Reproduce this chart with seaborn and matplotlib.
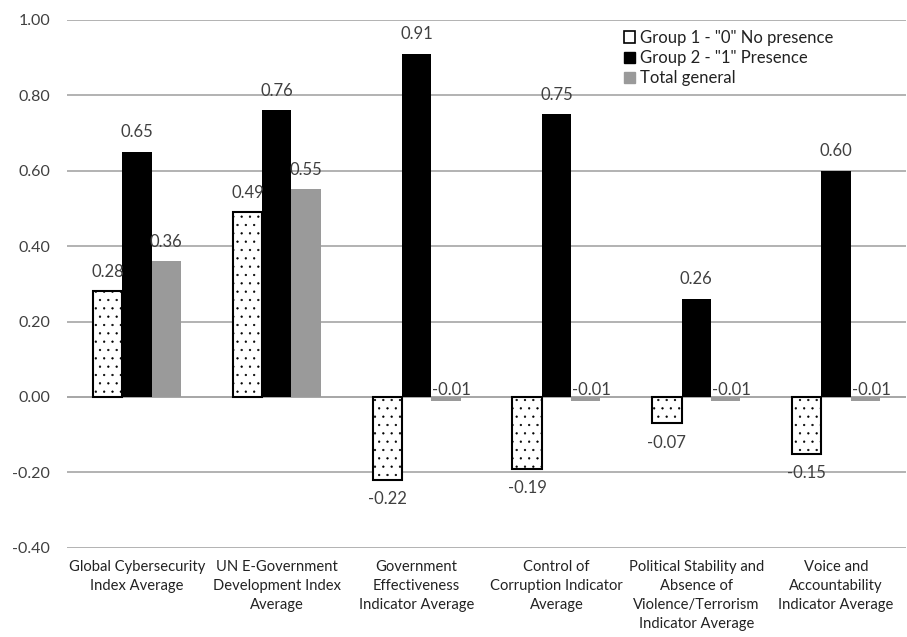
import matplotlib
matplotlib.use("Agg")
import matplotlib.pyplot as plt
from matplotlib.patches import Patch
import seaborn as sns
import pandas as pd

categories = [
    "Global Cybersecurity\nIndex Average",
    "UN E-Government\nDevelopment Index\nAverage",
    "Government\nEffectiveness\nIndicator Average",
    "Control of\nCorruption Indicator\nAverage",
    "Political Stability and\nAbsence of\nViolence/Terrorism\nIndicator Average",
    "Voice and\nAccountability\nIndicator Average",
]
groups = ['Group 1 - "0" No presence', 'Group 2 - "1" Presence', "Total general"]
group1 = [0.28, 0.49, -0.22, -0.19, -0.07, -0.15]
group2 = [0.65, 0.76, 0.91, 0.75, 0.26, 0.60]
total = [0.36, 0.55, -0.01, -0.01, -0.01, -0.01]
y_ticks = [-0.40, -0.20, 0.00, 0.20, 0.40, 0.60, 0.80, 1.00]

df = pd.DataFrame({
    "category": categories * 3,
    "group": [g for g in groups for _ in categories],
    "value": group1 + group2 + total,
})

sns.set_theme(style="white")
plt.rcParams["font.family"] = ["Lato", "DejaVu Sans"]
plt.rcParams["hatch.linewidth"] = 0.4

fig = plt.figure(figsize=(9.07, 6.37), dpi=100)
ax = fig.add_axes([0.0739, 0.14, 0.925, 0.829])

colors = ["white", "black", "#9a9a9a"]
sns.barplot(data=df, x="category", y="value", hue="group", hue_order=groups,
            order=categories, palette=colors, width=0.63, ax=ax,
            legend=False, errorbar=None, saturation=1)

# style: dotted white bars with black outline for group 1
for i, container in enumerate(ax.containers):
    for bar in container:
        if i == 0:
            bar.set_edgecolor("black")
            bar.set_linewidth(1.5)
            bar.set_hatch("..")
        else:
            bar.set_edgecolor("none")

# value labels
lbl = dict(fontsize=12, color="#404040", ha="center")
for container, vals in zip(ax.containers, [group1, group2, total]):
    for bar, v in zip(container, vals):
        x = bar.get_x() + bar.get_width() / 2
        if abs(v) < 0.02:
            ax.annotate(f"{v:.2f}", (x, 0), xytext=(4, -1), textcoords="offset points",
                        va="bottom", **lbl)
        elif v >= 0:
            ax.annotate(f"{v:.2f}", (x, v), xytext=(0, 14), textcoords="offset points",
                        va="center", **lbl)
        else:
            ax.annotate(f"{v:.2f}", (x, v), xytext=(0, -14), textcoords="offset points",
                        va="center", **lbl)

ax.set_ylim(-0.40, 1.00)
ax.set_yticks(y_ticks)
ax.set_yticklabels([f"{t:.2f}" for t in y_ticks], fontsize=11.5, color="#404040")
ax.tick_params(axis="y", length=0, pad=12)
ax.tick_params(axis="x", length=0, pad=9)
ax.set_xticks(range(len(categories)))
ax.set_xticklabels(categories, fontsize=10.6, color="#222222", linespacing=1.45)
ax.set_xlim(-0.5, len(categories) - 0.5)
ax.set_xlabel("")
ax.set_ylabel("")
ax.grid(axis="y", color="#a6a6a6", linewidth=1.2)
ax.set_axisbelow(True)
ax.axhline(0, color="#a6a6a6", linewidth=1.2, zorder=0.5)
for s in ax.spines.values():
    s.set_visible(False)

handles = [
    Patch(facecolor="white", edgecolor="black", linewidth=1.2),
    Patch(facecolor="black", edgecolor="black"),
    Patch(facecolor="#9a9a9a", edgecolor="#9a9a9a"),
]
leg = ax.legend(handles, groups, loc="upper left", bbox_to_anchor=(0.650, 1.003),
                frameon=False, fontsize=12, handlelength=0.65, handleheight=0.65,
                handletextpad=0.3, labelspacing=0.25, borderaxespad=0.3)
for t in leg.get_texts():
    t.set_color("#222222")

fig.savefig("out.png", dpi=100)
